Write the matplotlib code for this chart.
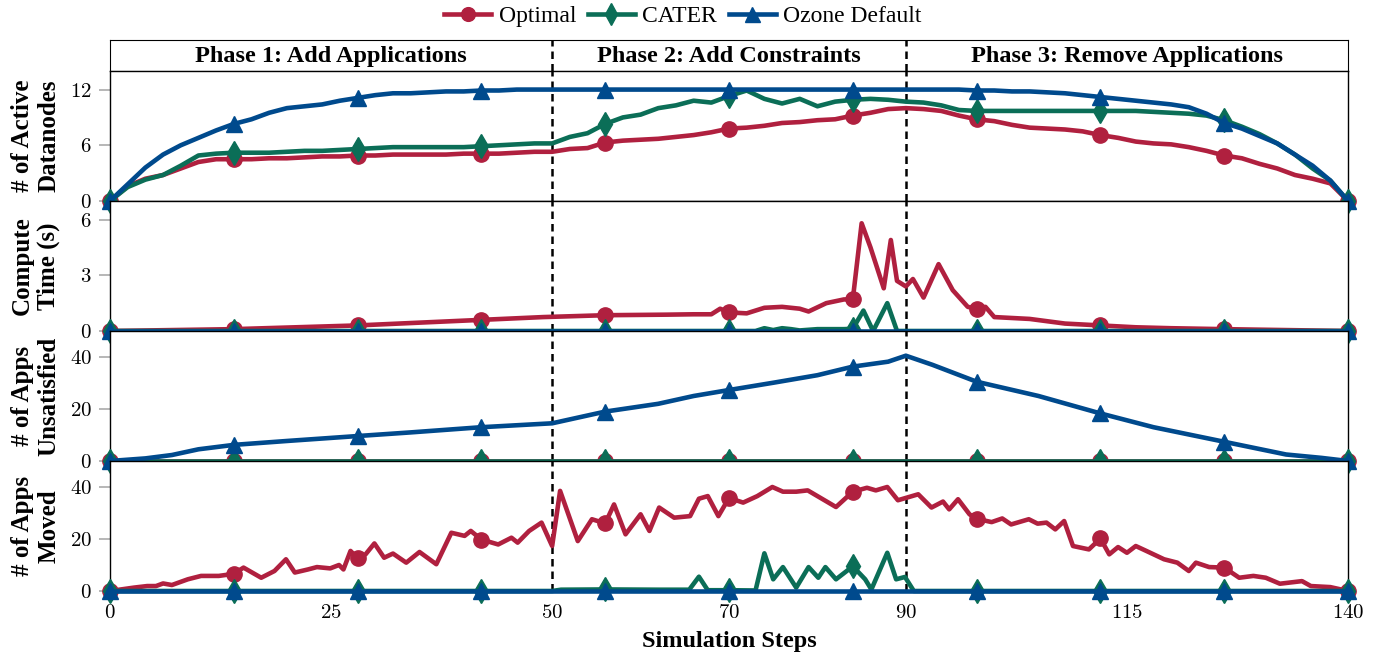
import numpy as np
import matplotlib
matplotlib.use('Agg')
import matplotlib.pyplot as plt

plt.rcParams['font.family'] = ['Liberation Serif', 'DejaVu Serif']
plt.rcParams['mathtext.fontset'] = 'cm'

# series colours / markers
RED, GREEN, BLUE = '#B0203F', '#0B6E57', '#004A8D'
names = ['Optimal', 'CATER', 'Ozone Default']
mark_steps = [0, 14, 28, 42, 56, 70, 84, 98, 112, 126, 140]
phases = ['Phase 1: Add Applications', 'Phase 2: Add Constraints', 'Phase 3: Remove Applications']
phase_bounds = [0, 50, 90, 140]

# panel 1: number of active datanodes (every 2 steps)
dn_steps = list(range(0, 141, 2))
dn_optimal = [0, 1.6, 2.4, 2.8, 3.5, 4.2, 4.5, 4.5, 4.5, 4.6, 4.6, 4.7, 4.8, 4.8, 4.9, 4.9,
              5.0, 5.0, 5.0, 5.0, 5.1, 5.1, 5.1, 5.2, 5.3, 5.3,
              5.6, 5.7, 6.3, 6.5, 6.6, 6.7, 6.9, 7.1, 7.4, 7.8, 7.9, 8.1, 8.4, 8.5, 8.7, 8.8,
              9.2, 9.5, 9.9, 10.0, 9.9, 9.7, 9.2,
              8.8, 8.6, 8.2, 7.9, 7.8, 7.7, 7.5, 7.1, 6.8, 6.4, 6.2, 6.1, 5.8, 5.4, 4.9, 4.6,
              4.0, 3.5, 2.8, 2.4, 1.9, 0]
dn_cater = [0, 1.5, 2.3, 2.8, 3.8, 4.9, 5.1, 5.2, 5.2, 5.2, 5.3, 5.4, 5.4, 5.5, 5.6, 5.7,
            5.8, 5.8, 5.8, 5.8, 5.8, 5.9, 6.0, 6.1, 6.2, 6.2,
            6.9, 7.3, 8.3, 9.0, 9.3, 10.0, 10.3, 10.8, 10.6, 11.3, 11.9, 11.0, 10.5, 11.0, 10.2, 10.7,
            10.9, 11.0, 10.9, 10.7, 10.6, 10.3, 9.8,
            9.7, 9.7, 9.7, 9.7, 9.7, 9.7, 9.7, 9.7, 9.7, 9.7, 9.6, 9.5, 9.4, 9.2, 8.7, 8.0,
            7.2, 6.2, 5.0, 3.5, 2.2, 0]
dn_ozone = [0, 1.8, 3.6, 5.0, 6.0, 6.8, 7.6, 8.3, 8.8, 9.5, 10.0, 10.2, 10.4, 10.8, 11.1, 11.4,
            11.6, 11.6, 11.7, 11.8, 11.8, 11.9, 11.9, 12, 12, 12,
            12, 12, 12, 12, 12, 12, 12, 12, 12, 12, 12, 12, 12, 12, 12, 12,
            12, 12, 12, 12, 12, 12, 12,
            11.9, 11.9, 11.8, 11.8, 11.7, 11.6, 11.4, 11.2, 11.0, 10.8, 10.6, 10.4, 10.1, 9.4, 8.4, 7.8,
            7.0, 6.2, 5.0, 3.8, 2.2, 0]

# panel 2: compute time (s)
ct_optimal_x = [0, 7, 14, 21, 28, 35, 42, 49, 56, 63, 66, 68, 69, 70, 72, 74, 76, 78, 79, 81, 83, 84,
                85, 86, 87.5, 88.3, 89, 90, 90.8, 92, 93.7, 95.3, 97, 98, 99, 100, 104, 108, 112,
                116, 120, 126, 133, 140]
ct_optimal = [0, 0.05, 0.1, 0.2, 0.3, 0.45, 0.6, 0.75, 0.85, 0.88, 0.9, 0.9, 1.2, 1.0, 0.95, 1.25, 1.3,
              1.2, 1.05, 1.5, 1.7, 1.7, 5.8, 4.5, 2.3, 4.9, 2.7, 2.4, 2.8, 1.8, 3.6, 2.2, 1.3, 1.2, 1.3,
              0.75, 0.65, 0.4, 0.3, 0.2, 0.15, 0.1, 0.05, 0]
ct_cater_x = [0, 14, 28, 42, 56, 70, 73, 74, 75, 76, 77, 78, 80, 82, 83, 84, 85.2, 86.3, 87.9, 89,
              90, 98, 112, 126, 140]
ct_cater = [0, 0, 0, 0, 0, 0, 0, 0.15, 0.05, 0.15, 0.1, 0.03, 0.1, 0.1, 0.1, 0.12, 1.1, 0, 1.5, 0,
            0, 0, 0, 0, 0]
ct_ozone_x = mark_steps
ct_ozone = [0, 0, 0, 0, 0, 0, 0, 0, 0, 0, 0]

# panel 3: apps unsatisfied
un_optimal = [0, 0, 0, 0, 0, 0, 0, 0, 0, 0, 0]
un_cater = [0, 0, 0, 0, 0, 0, 0, 0, 0, 0, 0]
un_ozone_x = [0, 4, 7, 10, 14, 20, 28, 34, 42, 50, 56, 62, 66, 70, 75, 80, 84, 88, 90, 93, 98,
              105, 112, 118, 126, 133, 137, 140]
un_ozone = [0, 1.0, 2.3, 4.5, 6.2, 7.7, 9.6, 11.0, 13.0, 14.5, 19.0, 22.0, 25.0, 27.3, 30.1, 33.0,
            36.3, 38.2, 40.5, 37.0, 30.5, 25.0, 18.3, 13.0, 7.4, 2.5, 1.2, 0]

# panel 4: apps moved
mv_optimal_x = [0, 2.7, 4.2, 5.2, 6, 7, 8.8, 10.3, 12.3, 14, 15.1, 17.1, 18.6, 19.9, 20.9, 22.4,
                23.4, 24.9, 25.9, 26.4, 27.2, 28, 28.9, 29.9, 31, 32, 33.5, 35, 36.9, 38.6, 40.1,
                40.8, 42, 43.9, 45.4, 46.1, 47.4, 48.8, 50, 50.9, 52.9, 54.5, 56, 57, 58.3, 60, 61,
                62.1, 63.8, 65.6, 66.6, 67.6, 68.8, 70, 71.6, 73.2, 74.9, 76.1, 77.6, 78.9, 80.6,
                82.1, 84, 85.6, 86.6, 87.9, 89.1, 91.4, 92.9, 94.2, 94.9, 95.9, 97.2, 98, 99.7,
                100.9, 101.9, 103.9, 104.9, 105.9, 106.9, 107.9, 108.9, 110.7, 112, 113, 114, 115,
                116, 117.2, 119.2, 120.7, 122, 122.8, 124.3, 126, 127.7, 129.3, 130.7, 132.3,
                134.8, 135.8, 138, 140]
mv_optimal = [0, 1.3, 1.9, 1.9, 2.9, 2.3, 4.5, 5.8, 5.8, 6.6, 9.0, 5.1, 7.7, 12.2, 7.1, 8.3,
              9.2, 8.7, 10.0, 8.3, 15.4, 12.6, 14.1, 18.3, 12.8, 14.4, 10.9, 15.0, 10.3, 22.4, 21.2,
              23.1, 19.8, 17.9, 20.5, 18.6, 23.1, 26.3, 17.3, 38.5, 19.2, 27.6, 26.0, 33.3, 21.8,
              29.5, 23.1, 32.1, 28.2, 28.8, 35.5, 36.5, 28.8, 35.8, 34.0, 36.5, 40.0, 38.2, 38.2,
              38.7, 35.3, 32.3, 38.2, 39.7, 38.7, 40.0, 34.9, 37.2, 32.1, 34.4, 31.4, 35.3, 29.5,
              27.8, 26.5, 27.9, 25.6, 27.6, 25.9, 26.3, 23.7, 26.9, 17.3, 16.0, 20.2, 14.1, 16.9,
              14.7, 17.3, 15.4, 12.2, 10.9, 7.7, 10.9, 9.2, 9.0, 5.1, 5.8, 5.1, 2.8, 3.8, 1.9,
              1.5, 0]
mv_cater_x = [0, 14, 28, 42, 50, 51, 56, 62, 65.5, 66.6, 67.6, 70, 73, 74, 75, 76.1, 77.6, 79,
              80.1, 80.9, 82.1, 84, 85.4, 86.1, 87.9, 88.9, 89.9, 90.9, 98, 112, 126, 140]
mv_cater = [0, 0, 0, 0, 0, 0.5, 0.6, 0.5, 0.5, 5.5, 0.3, 0.3, 0.2, 14.5, 4.5, 9.2, 1.3, 9.2,
            5.1, 9.2, 4.5, 9.5, 4.5, 0.6, 14.7, 4.5, 5.4, 0, 0, 0, 0, 0]
mv_ozone = [0, 0, 0, 0, 0, 0, 0, 0, 0, 0, 0]

panels = [
    ('# of Active\nDatanodes', [0, 6, 12], 14,
     [(dn_steps, dn_optimal), (dn_steps, dn_cater), (dn_steps, dn_ozone)]),
    ('Compute\nTime (s)', [0, 3, 6], 7,
     [(ct_optimal_x, ct_optimal), (ct_cater_x, ct_cater), (ct_ozone_x, ct_ozone)]),
    ('# of Apps\nUnsatisfied', [0, 20, 40], 50,
     [(mark_steps, un_optimal), (mark_steps, un_cater), (un_ozone_x, un_ozone)]),
    ('# of Apps\nMoved', [0, 20, 40], 50,
     [(mv_optimal_x, mv_optimal), (mv_cater_x, mv_cater), (mark_steps, mv_ozone)]),
]
styles = [dict(color=RED, marker='o', ms=11),
          dict(color=GREEN, marker='d', ms=12),
          dict(color=BLUE, marker='^', ms=12)]

fig = plt.figure(figsize=(13.85, 6.56), dpi=100)
left, width = 110 / 1385, 1238 / 1385
H = 656

def box(top, bottom):
    return [left, 1 - bottom / H, width, (bottom - top) / H]

# phase header
hax = fig.add_axes(box(40, 71))
hax.set_xlim(0, 140)
hax.set_ylim(0, 1)
hax.set_xticks([])
hax.set_yticks([])
for i, label in enumerate(phases):
    mid = (phase_bounds[i] + phase_bounds[i + 1]) / 2
    hax.text(mid, 0.47, label, ha='center', va='center', fontsize=17.5, fontweight='bold')
for b in phase_bounds[1:-1]:
    hax.axvline(b, color='black', ls='--', lw=1.8, dashes=(3, 2))

tops = [71, 201, 331, 461]
axes = []
for k, (ylabel, yt, ytop, series) in enumerate(panels):
    ax = fig.add_axes(box(tops[k], tops[k] + 130))
    ax.set_xlim(0, 140)
    ax.set_ylim(0, ytop)
    for (xs, ys), st in zip(series, styles):
        idx = [i for i, s in enumerate(xs) if s in mark_steps]
        ax.plot(xs, ys, lw=3.3, markevery=idx, clip_on=False, zorder=3, **st)
    for b in phase_bounds[1:-1]:
        ax.axvline(b, color='black', ls='--', lw=1.8, dashes=(3, 2), zorder=2)
    ax.set_yticks(yt)
    ax.set_yticklabels(['$%d$' % v for v in yt], fontsize=15)
    ax.tick_params(axis='y', direction='out', length=8, width=1.2, color='#aaaaaa', pad=5)
    ax.set_ylabel(ylabel, fontsize=18, fontweight='bold', linespacing=1.2)
    ax.yaxis.set_label_coords(-0.04, 0.5)
    for sp in ax.spines.values():
        sp.set_linewidth(1.0)
    axes.append(ax)

for ax in axes[:-1]:
    ax.set_xticks([])
xt = [0, 25, 50, 70, 90, 115, 140]
axes[-1].set_xticks(xt)
axes[-1].set_xticklabels(['$%d$' % v for v in xt], fontsize=15)
axes[-1].tick_params(axis='x', length=0, pad=9)
axes[-1].set_xlabel('Simulation Steps', fontsize=17.5, fontweight='bold', labelpad=6)

handles = axes[0].get_lines()[:3]
fig.legend(handles, names, loc='center', bbox_to_anchor=(0.493, 0.975), ncol=3, frameon=False,
           fontsize=17, handlelength=2.0, handletextpad=0.3, columnspacing=0.5,
           borderpad=0.1, markerscale=0.9)

fig.savefig('out.png', dpi=100)
